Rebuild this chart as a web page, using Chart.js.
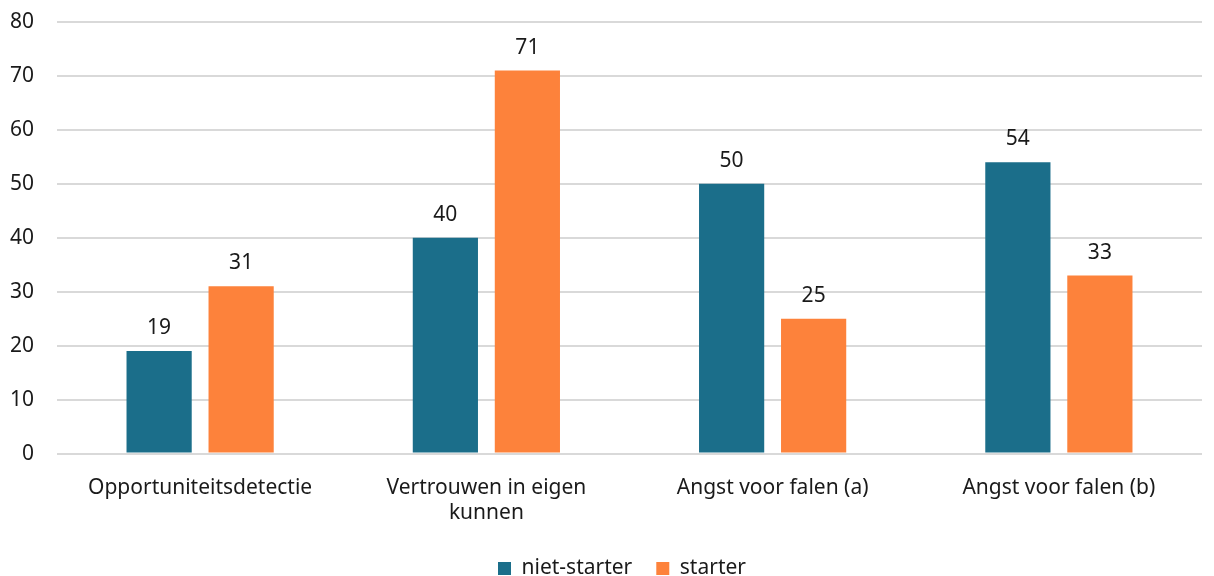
<!DOCTYPE html>
<html><head><meta charset="utf-8">
<script src="https://cdn.jsdelivr.net/npm/chart.js@4/dist/chart.umd.min.js"></script>
<style>html,body{margin:0;padding:0;background:#fff}#wrap{width:1214px;height:576px}</style>
</head><body><div id="wrap"><canvas id="c"></canvas></div>
<script>
const categories = [["Opportuniteitsdetectie"], ["Vertrouwen in eigen", "kunnen"], ["Angst voor falen (a)"], ["Angst voor falen (b)"]];
const seriesNames = ["niet-starter", "starter"];
const nietStarter = [19, 40, 50, 54];
const starter = [31, 71, 25, 33];
const yTickStep = 10;
const colors = ["#1b6e8a", "#fd823b"];
const FONT = "'Noto Sans', 'Open Sans', sans-serif";
const FS = 21;

const valueLabels = {
  id: 'valueLabels',
  afterLayout(chart) {
    if (chart.legend) { chart.legend.left += 16; chart.legend.right += 16; }
  },
  afterDatasetsDraw(chart) {
    const ctx = chart.ctx;
    ctx.save();
    ctx.font = FS + "px " + FONT;
    ctx.fillStyle = "#1a1a1a";
    ctx.textAlign = "center";
    ctx.textBaseline = "middle";
    chart.data.datasets.forEach((ds, i) => {
      chart.getDatasetMeta(i).data.forEach((bar, j) => {
        ctx.fillText(String(ds.data[j]), bar.x, bar.y - 23);
      });
    });
    ctx.restore();
  }
};

new Chart(document.getElementById('c'), {
  type: 'bar',
  data: {
    labels: categories,
    datasets: [
      { label: seriesNames[0], data: nietStarter, backgroundColor: colors[0] },
      { label: seriesNames[1], data: starter, backgroundColor: colors[1] }
    ]
  },
  options: {
    responsive: true,
    maintainAspectRatio: false,
    animation: false,
    categoryPercentage: 0.573,
    barPercentage: 0.795,
    layout: { padding: { left: 10, right: 12, top: 22, bottom: -13 } },
    scales: {
      x: {
        grid: { display: false, drawTicks: false },
        border: { display: false },
        ticks: { color: "#1a1a1a", font: { family: FONT, size: FS, lineHeight: 1.2 }, padding: 22, maxRotation: 0 },
        afterFit(scale) { scale.height -= 14; }
      },
      y: {
        min: 0, max: 80,
        ticks: { stepSize: yTickStep, color: "#1a1a1a", font: { family: FONT, size: FS }, padding: 23 },
        grid: { color: "#d9d9d9", lineWidth: 2, drawTicks: false },
        border: { display: false },
        afterFit(scale) { scale.width = 47; scale.paddingTop = 0; scale.paddingBottom = 0; }
      }
    },
    plugins: {
      legend: {
        position: 'bottom',
        labels: { color: "#1a1a1a", font: { family: FONT, size: FS }, boxWidth: 13, boxHeight: 13, padding: 24 }
      },
      tooltip: { enabled: false }
    }
  },
  plugins: [valueLabels]
});
</script>
</body></html>
